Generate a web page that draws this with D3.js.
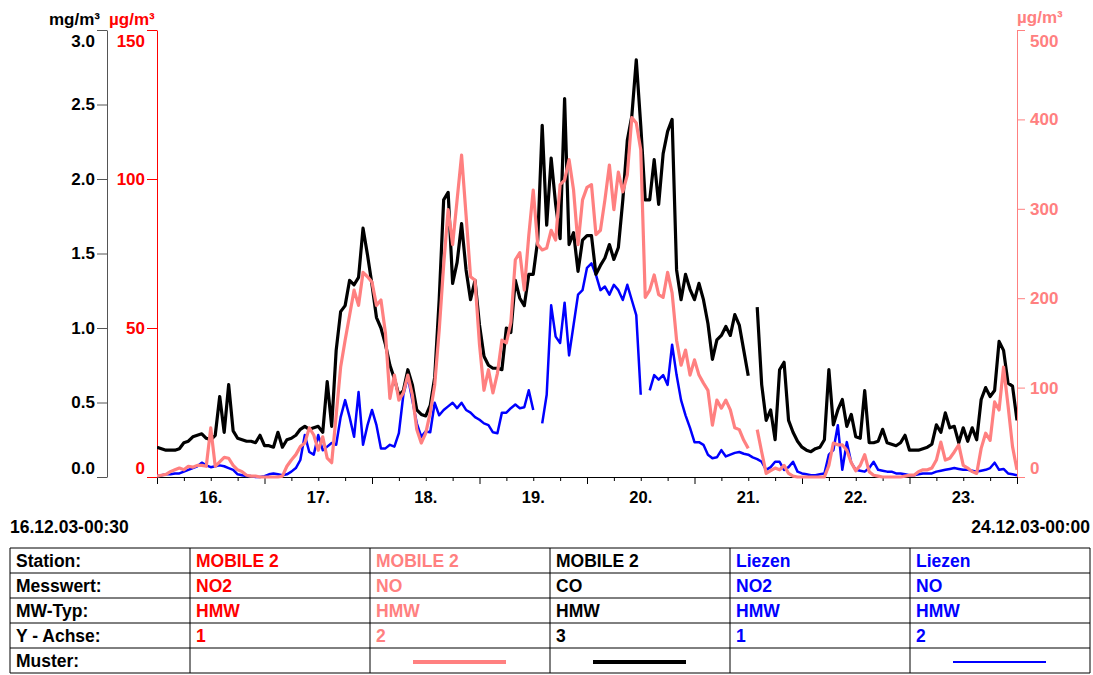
<!DOCTYPE html>
<html>
<head>
<meta charset="utf-8">
<script src="https://cdn.jsdelivr.net/npm/d3@7.9.0/dist/d3.min.js"></script>
<style>
  body { margin: 0; background: #fff; }
  svg { font-family: "Liberation Sans", Arial, sans-serif; font-weight: bold; }
</style>
</head>
<body>
<svg id="chart" width="1093" height="675"></svg>
<script>
// hourly values starting 16.12.03 00:00, one row per day, last entry = 24.12.03 00:00
const coMobile = [
  0.20,0.19,0.18,0.18,0.18,0.19,0.23,0.24,0.27,0.28,0.29,0.26,0.25,0.28,0.54,0.30,0.62,0.31,0.26,0.25,0.24,0.24,0.23,0.28,
  0.21,0.21,0.20,0.30,0.20,0.25,0.26,0.28,0.32,0.34,0.32,0.33,0.34,0.30,0.64,0.34,0.85,1.11,1.15,1.32,1.29,1.34,1.67,1.49,
  1.29,1.07,1.00,0.89,0.75,0.66,0.55,0.58,0.72,0.62,0.45,0.42,0.41,0.48,0.67,1.19,1.86,1.91,1.30,1.44,1.70,1.39,1.19,1.32,
  1.02,0.81,0.75,0.73,0.73,0.72,1.00,0.97,1.32,1.20,1.15,1.36,1.36,1.59,2.36,1.69,2.14,1.83,1.60,2.54,1.56,1.64,1.38,1.59,
  1.62,1.62,1.36,1.42,1.47,1.56,1.46,1.54,1.86,2.26,2.42,2.80,2.36,1.86,1.86,2.13,1.83,2.17,2.32,2.40,1.39,1.19,1.36,1.26,
  1.19,1.30,1.19,1.03,0.79,0.92,0.95,1.01,0.95,1.09,1.02,0.85,0.68,null,1.14,0.62,0.38,0.45,0.25,0.72,0.77,0.38,0.30,0.24,
  0.20,0.18,0.17,0.19,0.20,0.25,0.72,0.35,0.45,0.52,0.34,0.42,0.27,0.26,0.58,0.23,0.23,0.24,0.32,0.23,0.22,0.21,0.23,0.28,
  0.18,0.18,0.18,0.19,0.20,0.22,0.35,0.30,0.43,0.33,0.34,0.23,0.33,0.24,0.33,0.25,0.52,0.60,0.54,0.58,0.91,0.85,0.63,0.61,
  0.38
];
const noMobile = [
  1,2,3,6,8,10,8,12,11,13,13,12,55,12,17,22,21,13,8,6,2,1,1,0,
  0,0,0,0,1,12,19,25,34,38,55,47,30,45,21,16,69,123,153,181,209,192,229,224,
  218,192,198,161,88,114,86,94,114,92,53,38,49,72,103,164,237,299,260,310,360,293,224,220,
  148,97,120,94,116,153,150,173,243,251,209,270,321,260,254,256,276,265,327,332,355,321,260,310,
  324,327,271,276,310,349,299,341,319,338,402,396,366,201,209,226,204,201,229,206,153,125,142,114,
  131,114,105,97,58,86,77,86,75,55,53,41,32,null,53,28,4,7,10,8,13,4,1,0,
  0,0,0,0,0,0,13,38,36,36,30,16,7,13,25,6,2,1,0,0,0,0,0,1,
  2,2,6,8,8,10,19,39,19,21,28,36,13,10,6,4,32,49,41,84,75,123,80,34,
  8
];
const noLiezen = [
  1,2,3,3,4,4,6,8,10,12,16,13,11,12,13,12,10,8,3,2,1,1,0,0,
  1,3,4,3,2,3,6,10,19,47,28,25,47,30,34,38,36,67,86,67,45,95,36,58,
  75,58,32,32,36,34,49,92,112,86,60,45,51,50,83,69,75,79,83,77,83,75,72,67,
  64,60,58,50,49,72,72,77,81,77,78,97,75,null,60,92,192,157,150,195,136,170,204,209,
  234,239,226,209,213,204,215,209,198,215,198,181,92,null,97,114,109,114,103,148,114,86,69,55,
  39,39,36,25,21,22,30,23,25,27,28,26,25,22,20,17,8,11,17,17,8,11,17,6,
  4,3,2,2,3,4,25,30,58,8,39,16,8,7,6,10,17,8,7,6,6,4,4,3,
  2,2,3,4,4,4,6,7,8,9,10,9,8,8,7,6,7,8,10,16,8,9,4,3,
  2
];

const dayLabels = ["16.", "17.", "18.", "19.", "20.", "21.", "22.", "23."];
const coTicks = [0, 0.5, 1, 1.5, 2, 2.5, 3];
const no2Ticks = [0, 50, 100, 150];
const noTicks = [0, 100, 200, 300, 400, 500];
const startLabel = "16.12.03-00:30";
const endLabel = "24.12.03-00:00";

const rowLabels = ["Station:", "Messwert:", "MW-Typ:", "Y - Achse:", "Muster:"];
const stations = ["MOBILE 2", "MOBILE 2", "MOBILE 2", "Liezen", "Liezen"];
const measures = ["NO2", "NO", "CO", "NO2", "NO"];
const mwTypes = ["HMW", "HMW", "HMW", "HMW", "HMW"];
const yAxisIds = ["1", "2", "3", "1", "2"];
const colColors = ["#ff0000", "#ff8080", "#000000", "#0000ff", "#0000ff"];
const patternWidth = [0, 4, 4, 0, 2];

const svg = d3.select("#chart");
const t0 = new Date(2003, 11, 16, 0);
const t1 = new Date(2003, 11, 24, 0);
const hourDate = (h) => new Date(2003, 11, 16, h);

const plotL = 157, plotR = 1017, plotT = 30, plotB = 477;
const x = d3.scaleTime().domain([t0, t1]).range([plotL, plotR]);
const yCO = d3.scaleLinear().domain([0, 3]).range([plotB, plotT]);
const yNO2 = d3.scaleLinear().domain([0, 150]).range([plotB, plotT]);
const yNO = d3.scaleLinear().domain([0, 500]).range([plotB, plotT]);

function styleAxis(g, color, lineColor) {
  g.select(".domain").attr("stroke", lineColor);
  g.selectAll(".tick line").attr("stroke", lineColor);
  g.selectAll(".tick text").attr("fill", color)
    .attr("font-size", 17).attr("font-weight", "bold")
    .attr("font-family", "Liberation Sans, Arial, sans-serif");
}
// first and last labels sit inside the axis range
function nudgeEnds(g) {
  const texts = g.selectAll(".tick text").nodes();
  d3.select(texts[0]).attr("y", -9);
  d3.select(texts[texts.length - 1]).attr("y", 11);
}

// axis 3: CO mg/m³
const gCO = svg.append("g").attr("transform", "translate(107,0)")
  .call(d3.axisLeft(yCO).tickValues(coTicks).tickFormat(d3.format(".1f"))
    .tickSize(10).tickSizeOuter(0).tickPadding(2));
styleAxis(gCO, "#000", "#555");
nudgeEnds(gCO);

// axis 1: NO2 µg/m³
const gNO2 = svg.append("g").attr("transform", `translate(${plotL},0)`)
  .call(d3.axisLeft(yNO2).tickValues(no2Ticks).tickFormat(d3.format("d"))
    .tickSize(10).tickSizeOuter(0).tickPadding(2));
styleAxis(gNO2, "#ff0000", "#ff0000");
nudgeEnds(gNO2);

// axis 2: NO µg/m³
const gNO = svg.append("g").attr("transform", `translate(${plotR},0)`)
  .call(d3.axisRight(yNO).tickValues(noTicks).tickFormat(d3.format("d"))
    .tickSize(8).tickSizeOuter(0).tickPadding(5));
styleAxis(gNO, "#ff8080", "#ff8080");
nudgeEnds(gNO);

// unit labels
const unitFont = (sel) => sel.attr("font-size", 17).attr("font-weight", "bold");
svg.append("text").attr("x", 100).attr("y", 25).attr("text-anchor", "end").text("mg/m³").call(unitFont);
svg.append("text").attr("x", 109).attr("y", 25).attr("fill", "#ff0000").text("µg/m³").call(unitFont);
svg.append("text").attr("x", 1017).attr("y", 23).attr("fill", "#ff8080").text("µg/m³").call(unitFont);

// x axis: 6-hour ticks, longer at midnight
const tickHours = d3.range(0, 193, 6).map(hourDate);
const gX = svg.append("g").attr("transform", `translate(0,${plotB})`)
  .call(d3.axisBottom(x).tickValues(tickHours).tickFormat("").tickSizeOuter(0));
gX.select(".domain").attr("stroke", "#000");
gX.selectAll(".tick line").attr("stroke", "#000")
  .attr("y2", (d) => d.getHours() === 0 ? 7 : 4);
svg.append("g").selectAll("text").data(dayLabels).join("text")
  .attr("x", (d, i) => x(hourDate(i * 24 + 12)))
  .attr("y", 503).attr("text-anchor", "middle")
  .attr("font-size", 16.5).text((d) => d);

// series
svg.append("clipPath").attr("id", "plotclip").append("rect")
  .attr("x", plotL).attr("y", 0).attr("width", plotR - plotL).attr("height", plotB + 2);
const plot = svg.append("g").attr("clip-path", "url(#plotclip)");
function drawSeries(values, yScale, color, width) {
  const line = d3.line()
    .defined((d) => d != null)
    .x((d, i) => x(hourDate(i)))
    .y((d) => yScale(d));
  plot.append("path").datum(values)
    .attr("d", line).attr("fill", "none")
    .attr("stroke", color).attr("stroke-width", width)
    .attr("stroke-linejoin", "round");
}
drawSeries(noLiezen, yNO, "#0000ff", 2.5);
drawSeries(coMobile, yCO, "#000000", 3.2);
drawSeries(noMobile, yNO, "#ff8080", 3.2);

// start / end stamps
svg.append("text").attr("x", 10).attr("y", 533).attr("font-size", 17.5).text(startLabel);
svg.append("text").attr("x", 1090).attr("y", 533).attr("font-size", 17.5)
  .attr("text-anchor", "end").text(endLabel);

// legend table
const tblTop = 548, rowH = 25, tblL = 10, firstW = 180, colW = 180;
const colX = (c) => tblL + firstW + c * colW;
const tbl = svg.append("g");
const rowsData = [stations, measures, mwTypes, yAxisIds];
rowLabels.forEach((lab, r) => {
  tbl.append("text").attr("x", tblL + 6).attr("y", tblTop + r * rowH + 19)
    .attr("font-size", 17.5).text(lab);
});
rowsData.forEach((row, r) => {
  tbl.selectAll(null).data(row).join("text")
    .attr("x", (d, c) => colX(c) + 6)
    .attr("y", tblTop + r * rowH + 19)
    .attr("font-size", 17.5)
    .attr("fill", (d, c) => colColors[c])
    .text((d) => d);
});
const patterns = patternWidth.map((w, c) => ({ w, c })).filter((p) => p.w > 0);
tbl.selectAll(null).data(patterns).join("line")
  .attr("x1", (p) => colX(p.c) + 43)
  .attr("x2", (p) => colX(p.c) + 136)
  .attr("y1", tblTop + 4 * rowH + 14).attr("y2", tblTop + 4 * rowH + 14)
  .attr("stroke", (p) => colColors[p.c]).attr("stroke-width", (p) => p.w);
// grid lines of the table
const tblR = colX(5);
d3.range(0, 6).forEach((r) => {
  tbl.append("line").attr("x1", tblL).attr("x2", tblR)
    .attr("y1", tblTop + r * rowH).attr("y2", tblTop + r * rowH)
    .attr("stroke", "#000").attr("stroke-width", 1);
});
[tblL].concat(d3.range(0, 6).map(colX)).forEach((cx) => {
  tbl.append("line").attr("x1", cx).attr("x2", cx)
    .attr("y1", tblTop).attr("y2", tblTop + 5 * rowH)
    .attr("stroke", "#000").attr("stroke-width", 1);
});
</script>
</body>
</html>
